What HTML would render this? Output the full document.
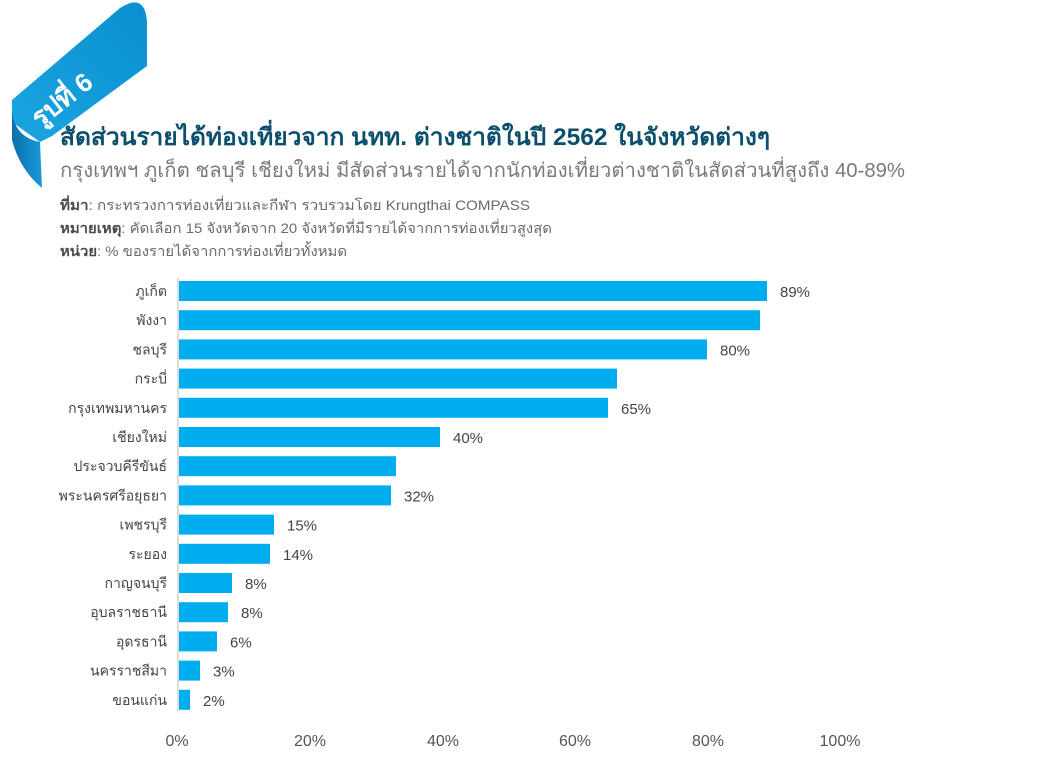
<!DOCTYPE html>
<html><head><meta charset="utf-8"><style>
html,body{margin:0;padding:0;background:#fff;}
svg{display:block;font-family:"Liberation Sans","Noto Sans CJK SC",sans-serif;}
</style></head><body>
<svg width="1038" height="767" viewBox="0 0 1038 767" xmlns="http://www.w3.org/2000/svg">
<defs>
<linearGradient id="g" x1="0" y1="1" x2="1" y2="0">
<stop offset="0" stop-color="#1aa5e0"/><stop offset="1" stop-color="#0a8fd0"/>
</linearGradient>
<linearGradient id="g2" x1="0" y1="0" x2="1" y2="0">
<stop offset="0" stop-color="#0a6fae"/><stop offset="1" stop-color="#1b9ad8"/>
</linearGradient>
</defs>
<path d="M12,100 L120,8 Q145,-8 147,22 L147,66 L52,136 L40,142 L12,122 Z" fill="url(#g)"/>
<path d="M12,110 Q14,137 40,142 L42,188 Q20,170 12,140 Z" fill="url(#g2)"/>
<text x="0" y="0" transform="translate(40,128) rotate(-38)" fill="#fff" font-weight="bold" font-size="26">รูปที่ 6</text>
<text x="60" y="145" fill="#0b4f6c" font-weight="bold" font-size="24" textLength="710" lengthAdjust="spacingAndGlyphs">สัดส่วนรายได้ท่องเที่ยวจาก นทท. ต่างชาติในปี 2562 ในจังหวัดต่างๆ</text>
<text x="60" y="177" fill="#7a7a7a" font-size="20" textLength="845" lengthAdjust="spacingAndGlyphs">กรุงเทพฯ ภูเก็ต ชลบุรี เชียงใหม่ มีสัดส่วนรายได้จากนักท่องเที่ยวต่างชาติในสัดส่วนที่สูงถึง 40-89%</text>
<g font-size="14" fill="#6a6a6a">
<text x="60" y="210" textLength="470" lengthAdjust="spacingAndGlyphs"><tspan font-weight="bold" fill="#4a4a4a">ที่มา</tspan>:  กระทรวงการท่องเที่ยวและกีฬา รวบรวมโดย Krungthai COMPASS</text>
<text x="60" y="233" textLength="492" lengthAdjust="spacingAndGlyphs"><tspan font-weight="bold" fill="#4a4a4a">หมายเหตุ</tspan>: คัดเลือก 15 จังหวัดจาก 20 จังหวัดที่มีรายได้จากการท่องเที่ยวสูงสุด</text>
<text x="60" y="256" textLength="287" lengthAdjust="spacingAndGlyphs"><tspan font-weight="bold" fill="#4a4a4a">หน่วย</tspan>: % ของรายได้จากการท่องเที่ยวทั้งหมด</text>
</g>
<line x1="178" y1="278" x2="178" y2="711" stroke="#d0d0d0" stroke-width="1.5"/>
<g fill="#00aeef">
<rect x="179" y="281" width="588" height="20"/>
<rect x="179" y="310.2" width="581" height="20"/>
<rect x="179" y="339.4" width="528" height="20"/>
<rect x="179" y="368.6" width="438" height="20"/>
<rect x="179" y="397.8" width="429" height="20"/>
<rect x="179" y="427" width="261" height="20"/>
<rect x="179" y="456.2" width="217" height="20"/>
<rect x="179" y="485.4" width="212" height="20"/>
<rect x="179" y="514.6" width="95" height="20"/>
<rect x="179" y="543.8" width="91" height="20"/>
<rect x="179" y="573" width="53" height="20"/>
<rect x="179" y="602.2" width="49" height="20"/>
<rect x="179" y="631.4" width="38" height="20"/>
<rect x="179" y="660.6" width="21" height="20"/>
<rect x="179" y="689.8" width="11" height="20"/>
</g>
<g font-size="14" fill="#444" text-anchor="end">
<text x="167" y="296">ภูเก็ต</text>
<text x="167" y="325.2">พังงา</text>
<text x="167" y="354.4">ชลบุรี</text>
<text x="167" y="383.6">กระบี่</text>
<text x="167" y="412.8">กรุงเทพมหานคร</text>
<text x="167" y="442">เชียงใหม่</text>
<text x="167" y="471.2">ประจวบคีรีขันธ์</text>
<text x="167" y="500.4">พระนครศรีอยุธยา</text>
<text x="167" y="529.6">เพชรบุรี</text>
<text x="167" y="558.8">ระยอง</text>
<text x="167" y="588">กาญจนบุรี</text>
<text x="167" y="617.2">อุบลราชธานี</text>
<text x="167" y="646.4">อุดรธานี</text>
<text x="167" y="675.6">นครราชสีมา</text>
<text x="167" y="704.8">ขอนแก่น</text>
</g>
<g font-size="15" fill="#444">
<text x="780" y="297">89%</text>
<text x="720" y="355.4">80%</text>
<text x="621" y="413.8">65%</text>
<text x="453" y="443">40%</text>
<text x="404" y="501.4">32%</text>
<text x="287" y="530.6">15%</text>
<text x="283" y="559.8">14%</text>
<text x="245" y="589">8%</text>
<text x="241" y="618.2">8%</text>
<text x="230" y="647.4">6%</text>
<text x="213" y="676.6">3%</text>
<text x="203" y="705.8">2%</text>
</g>
<g font-size="16" fill="#555" text-anchor="middle">
<text x="177" y="746">0%</text>
<text x="310" y="746">20%</text>
<text x="443" y="746">40%</text>
<text x="575" y="746">60%</text>
<text x="708" y="746">80%</text>
<text x="840" y="746">100%</text>
</g>
</svg>
</body></html>
